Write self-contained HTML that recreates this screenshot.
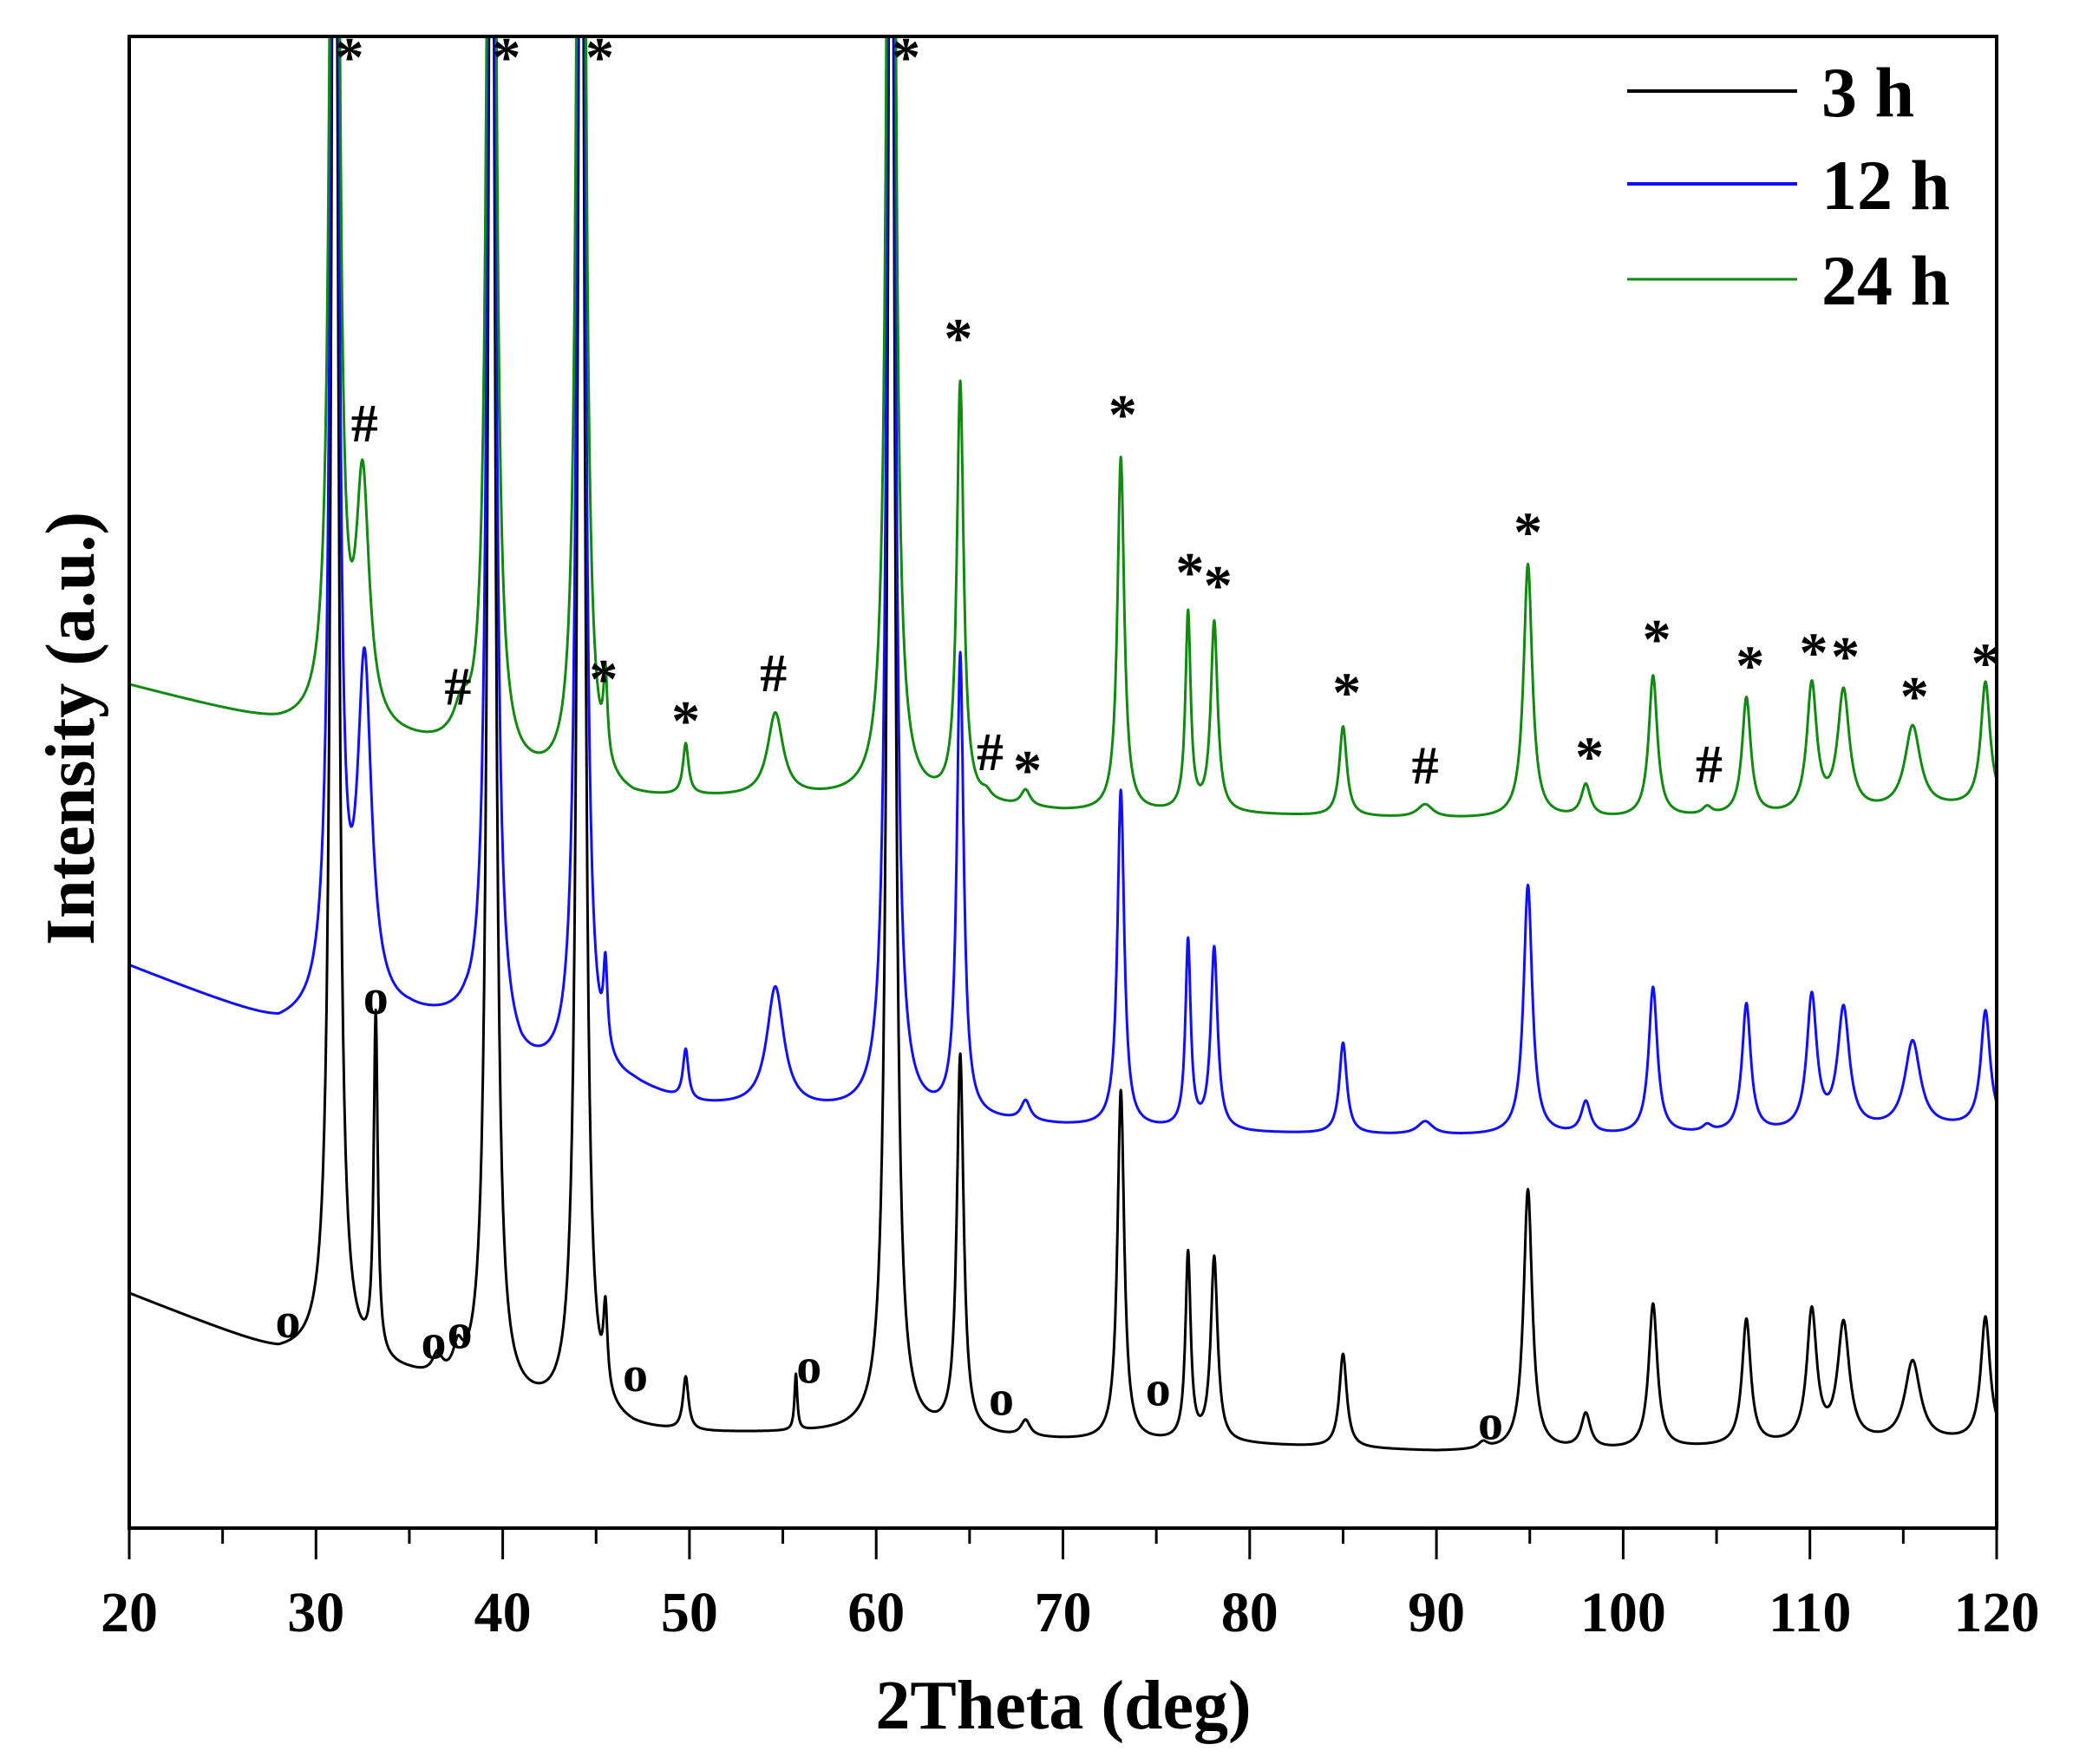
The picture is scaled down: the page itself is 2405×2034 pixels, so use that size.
<!DOCTYPE html>
<html><head><meta charset="utf-8"><style>
html,body{margin:0;padding:0;background:#fff;}
svg{display:block;}
text{font-family:"Liberation Serif",serif;font-weight:bold;}
</style></head><body>
<svg id="chart" width="2405" height="2034" viewBox="0 0 2405 2034" xmlns="http://www.w3.org/2000/svg">
<defs><clipPath id="plotclip"><rect x="149" y="42" width="2153" height="1720"/></clipPath></defs>
<g id="series" clip-path="url(#plotclip)"></g>
<g id="annots"></g>
<rect x="149" y="42" width="2153" height="1720" fill="none" stroke="#000" stroke-width="4"/>
<g id="xaxis"></g>
<text x="1226" y="1993" font-size="80" text-anchor="middle">2Theta (deg)</text>
<text transform="translate(108,840) rotate(-90)" font-size="80" text-anchor="middle">Intensity (a.u.)</text>
<g>
<line x1="1876" y1="105" x2="2072" y2="105" stroke="#000" stroke-width="4"/>
<text x="2100" y="134" font-size="82">3 h</text>
<line x1="1876" y1="212" x2="2072" y2="212" stroke="#1010ff" stroke-width="4"/>
<text x="2100" y="241" font-size="82">12 h</text>
<line x1="1876" y1="322" x2="2072" y2="322" stroke="#108a10" stroke-width="3"/>
<text x="2100" y="351" font-size="82">24 h</text>
</g>
</svg>
<script>
// baselines: [2theta, intensity]
const base3 = [[20,175],[28,130],[30,128],[35,112],[40,92],[47,72],[50,70],[60,70],[70,65],[80,62],[90,57],[100,58],[110,62],[120,65]];
const base12 = [[20,420],[28,375],[35,380],[38,375],[41,340],[47,328],[50,315],[58,310],[70,300],[80,295],[90,293],[100,293],[110,295],[120,300]];
const base24 = [[20,630],[28,600],[35,585],[37,580],[41,560],[47,543],[50,545],[60,545],[70,535],[80,533],[90,530],[100,530],[110,532],[120,540]];
// peaks: [position, amplitude, half-width]
const peaks3 = [[31.0,1500,0.2],[33.2,255,0.13],[36.5,15,0.3],[37.6,20,0.3],[39.4,1500,0.2],[44.2,1500,0.2],[45.5,60,0.13],[49.8,40,0.18],[55.7,42,0.09],[60.8,1500,0.2],[64.5,282,0.22],[68.0,12,0.3],[73.1,262,0.22],[76.7,140,0.17],[78.1,138,0.22],[85.0,70,0.24],[92.5,5,0.3],[94.9,195,0.28],[98.0,26,0.3],[101.6,108,0.28],[106.6,94,0.28],[110.1,98,0.32],[111.8,88,0.38],[115.5,60,0.5],[119.4,92,0.3]];
const peaks12 = [[31.0,1500,0.2],[32.6,255,0.45],[39.4,1500,0.2],[44.2,1500,0.2],[45.5,62,0.13],[49.8,38,0.18],[54.6,90,0.55],[60.8,1500,0.2],[64.5,345,0.22],[68.0,15,0.3],[73.1,252,0.22],[76.7,140,0.17],[78.1,136,0.22],[85.0,68,0.24],[89.4,10,0.5],[94.9,187,0.28],[98.0,24,0.3],[101.6,110,0.28],[104.5,5,0.3],[106.6,96,0.28],[110.1,100,0.32],[111.8,90,0.38],[115.5,65,0.5],[119.4,86,0.3]];
const peaks24 = [[31.0,1500,0.2],[32.5,180,0.42],[37.8,25,0.5],[39.4,1500,0.2],[44.2,1500,0.2],[45.5,62,0.13],[49.8,38,0.18],[54.6,62,0.5],[60.8,1500,0.2],[64.5,312,0.22],[65.9,5,0.3],[68.0,12,0.3],[73.1,265,0.22],[76.7,148,0.17],[78.1,142,0.22],[85.0,67,0.24],[89.4,10,0.5],[94.9,190,0.28],[98.0,24,0.3],[101.6,106,0.28],[104.5,6,0.3],[106.6,88,0.28],[110.1,96,0.32],[111.8,90,0.38],[115.5,62,0.5],[119.4,92,0.3]];
const xTicks = [20,30,40,50,60,70,80,90,100,110,120];
const starMarks = [[31.8,1105],[40.2,1105],[45.2,1105],[61.6,1105],[64.4,895],[73.2,838],[76.8,720],[78.3,710],[94.9,750],[85.2,630],[101.8,670],[106.8,650],[110.2,660],[111.9,657],[115.6,627],[119.4,652],[45.4,640],[49.8,609],[68.1,572],[98.2,582]];
const hashMarks = [[32.6,827],[37.6,630],[54.5,640],[66.1,581],[89.4,571],[104.6,572]];
const oMarks = [[33.2,395],[28.5,153],[36.3,137],[37.7,145],[47.1,113],[56.4,119],[66.7,95],[75.1,102],[92.9,77]];

const X0=149, X1=2302, Y0=1762, S=1.542;
function xs(v){return X0+(v-20)/100*(X1-X0);}
function ys(v){return Y0-v*S;}
function baseAt(b,x){for(let i=0;i<b.length-1;i++){if(x<=b[i+1][0]){const t=(x-b[i][0])/(b[i+1][0]-b[i][0]);return b[i][1]+t*(b[i+1][1]-b[i][1]);}}return b[b.length-1][1];}
function profile(b,p,x){let v=baseAt(b,x);for(const k of p){const d=(x-k[0])/k[2];v+=k[1]/(1+d*d);}return v;}
const NS='http://www.w3.org/2000/svg';
const g=document.getElementById('series');
function drawSeries(b,p,color,w,name){
  let d='';
  for(let x=20;x<=120.001;x+=0.02){d+=(d?'L':'M')+xs(x).toFixed(1)+','+Math.max(-50,ys(profile(b,p,x))).toFixed(1);}
  const path=document.createElementNS(NS,'path');
  path.setAttribute('d',d);path.setAttribute('fill','none');path.setAttribute('stroke',color);path.setAttribute('stroke-width',w);path.setAttribute('stroke-linejoin','round');
  
  
  g.appendChild(path);
}
drawSeries(base3,peaks3,'#000','3','series-3h');
drawSeries(base12,peaks12,'#1010ff','3','series-12h');
drawSeries(base24,peaks24,'#108a10','3','series-24h');

const ax=document.getElementById('xaxis');
for(let v=20;v<=120;v+=5){
  const t=document.createElementNS(NS,'line');
  const major=v%10===0;
  t.setAttribute('x1',xs(v));t.setAttribute('x2',xs(v));t.setAttribute('y1',1762);t.setAttribute('y2',major?1798:1780);
  t.setAttribute('stroke','#000');t.setAttribute('stroke-width','3');
  
  
  ax.appendChild(t);
}
for(const v of xTicks){
  const t=document.createElementNS(NS,'text');
  t.setAttribute('x',xs(v));t.setAttribute('y',1881);t.setAttribute('font-size','66');t.setAttribute('text-anchor','middle');
  t.textContent=v;
  
  
  ax.appendChild(t);
}
const an=document.getElementById('annots');
function mark(arr,ch,size,name,dy){
  for(const m of arr){
    const t=document.createElementNS(NS,'text');
    t.setAttribute('x',xs(m[0]));t.setAttribute('y',ys(m[1])+dy);t.setAttribute('font-size',size);t.setAttribute('text-anchor','middle');
    t.textContent=ch;
    
    
    an.appendChild(t);
  }
}
mark(starMarks,'*',66,'phase-star-marker',30);
mark(hashMarks,'#',62,'phase-hash-marker',22);
mark(oMarks,'o',58,'phase-o-marker',16);
</script>
</body></html>
